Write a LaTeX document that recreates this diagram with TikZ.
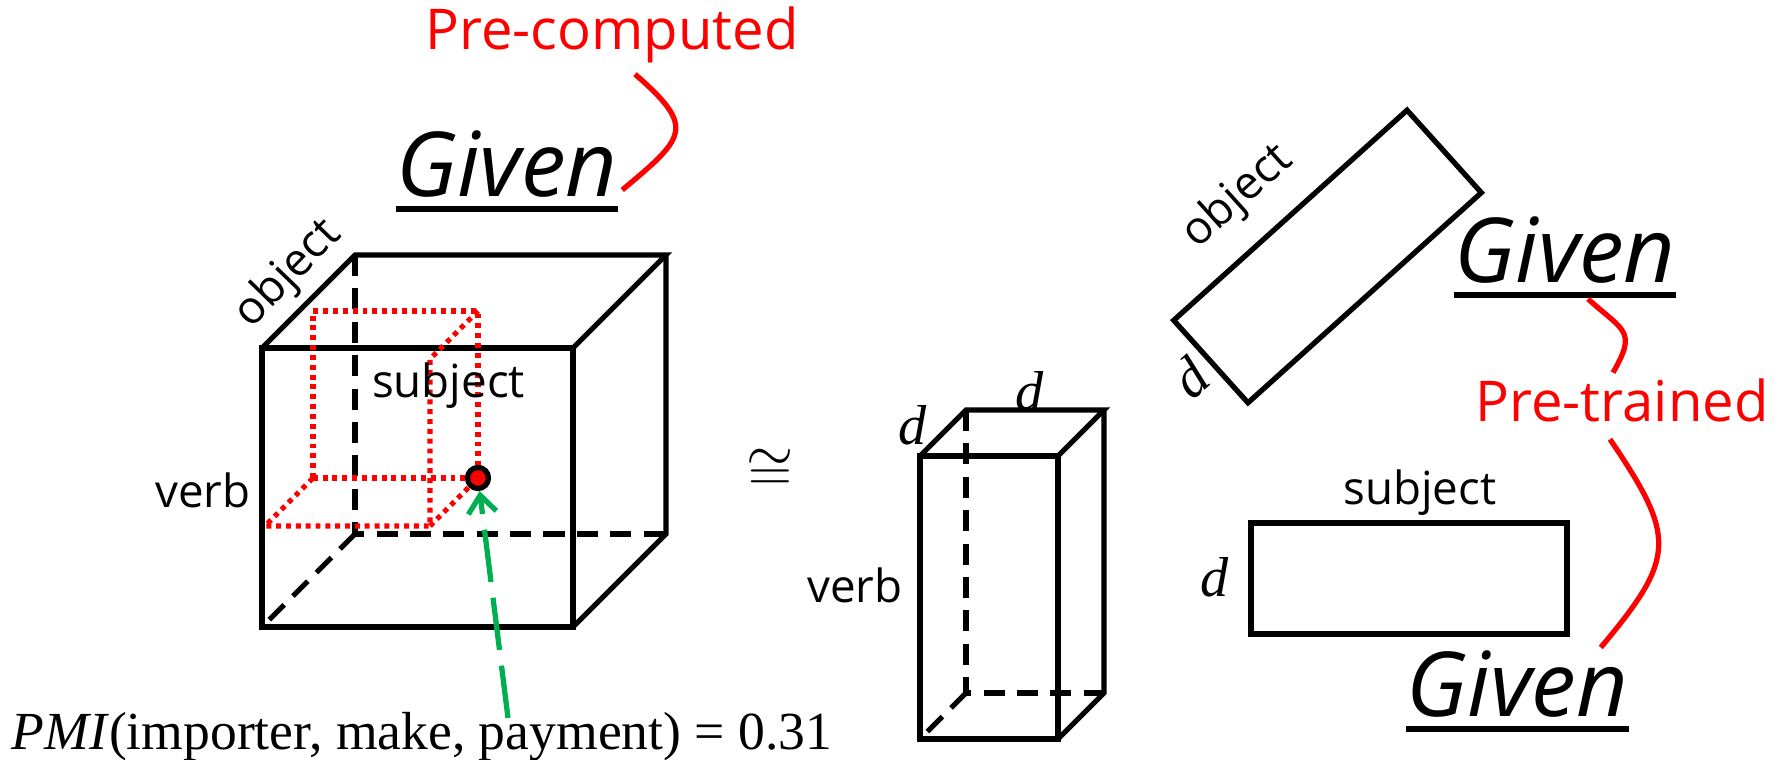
\documentclass[tikz,border=0pt]{standalone}
\usepackage{fontspec}
\setmainfont{Open Sans}
\newfontfamily\timesfont{Liberation Serif}
\usetikzlibrary{arrows.meta}
\definecolor{pmigreen}{RGB}{0,176,80}

\begin{document}
\begin{tikzpicture}[
	box/.style = {line width=1.5pt},
	hidden/.style = {line width=1.5pt, dash pattern=on 6pt off 3.5pt},
	sub/.style = {red, line width=1.5pt, dash pattern=on 1.4pt off 1.4pt},
	note/.style = {red, line width=1.5pt},
	lbl/.style = {inner sep=0pt, font=\fontsize{13}{15}\selectfont},
	given/.style = {inner sep=0pt, font=\fontsize{25.5}{30}\selectfont\itshape},
	redlbl/.style = {inner sep=0pt, red, font=\fontsize{16}{19}\selectfont},
	dimlbl/.style = {inner sep=0pt, font=\fontsize{16}{18}\selectfont\timesfont\itshape}]
\useasboundingbox (0,0) rectangle (17.79,7.60);

% the two cuboids
\foreach \x / \y / \w / \h / \d in {2.62/1.33/3.11/2.79/0.93, 9.20/0.21/1.38/2.83/0.46}
{
	\draw[box] (\x,\y) rectangle (\x+\w,\y+\h);
	\draw[box] (\x,\y+\h) -- (\x+\d,\y+\h+\d) -- (\x+\w+\d,\y+\h+\d) -- (\x+\w,\y+\h);
	\draw[box] (\x+\w+\d,\y+\h+\d) -- (\x+\w+\d,\y+\d) -- (\x+\w,\y);
	\draw[hidden] (\x+\d,\y+\h+\d) -- (\x+\d,\y+\d) -- (\x+\w+\d,\y+\d);
	\draw[hidden] (\x+\d,\y+\d) -- (\x,\y);
}

% selected cell
\draw[sub] (3.13,2.82) rectangle (4.78,4.49);
\draw[sub] (4.78,4.49) -- (4.30,4.01) -- (4.30,2.34) -- (2.65,2.34) -- (3.13,2.82);
\draw[sub] (4.30,2.34) -- (4.78,2.82);
\node[circle, draw, line width=1.5pt, fill=red, inner sep=0pt, minimum size=0.21cm] (cell) at (4.78,2.82) {};

\node[lbl, rotate=46, anchor=base west] (obj1) at (2.51,4.30) {object};
\node[lbl, anchor=base] (subj1) at (4.485,3.62) {subject};
\node[lbl, anchor=base] (verb1) at (2.03,2.52) {verb};

\node[anchor=base west, inner sep=0pt, font=\fontsize{15.25}{18}\selectfont\timesfont] (pmi) at (0.11,0.10) {\textit{PMI}(importer, make, payment) = 0.31};
\coordinate (pmitail) at (5.08,0.42);
\draw[pmigreen, line width=1.5pt, dash pattern=on 15pt off 4.5pt, -{Straight Barb[length=5pt, width=8pt]}] (pmitail) -- (cell);

\node[font=\fontsize{18}{20}\selectfont] (cong) at (7.70,2.90) {$\cong$};

% verb x d x d
\node[lbl, anchor=base] (verb2) at (8.55,1.57) {verb};
\node[dimlbl] (d1) at (9.13,3.35) {d};
\node[dimlbl] (d2) at (10.30,3.69) {d};

% object x d
\begin{scope}[shift={(13.275,5.035)}, rotate=42, transform shape]
	\draw[box] (-1.57,-0.555) rectangle (1.57,0.555);
	\node[lbl, anchor=base west] (obj2) at (-0.93,0.92) {object};
	\node[dimlbl] (d3) at (-1.835,0.02) {d};
\end{scope}

% subject x d
\draw[box] (12.51,1.26) rectangle (15.67,2.37);
\node[lbl, anchor=base] (subj2) at (14.20,2.55) {subject};
\node[dimlbl] (d4) at (12.15,1.83) {d};

\node[given, anchor=base] (given1) at (5.07,5.63) {Given};
\node[given, anchor=base] (given2) at (15.65,4.77) {Given};
\node[given, anchor=base] (given3) at (15.175,0.43) {Given};
\foreach \g in {given1, given2, given3}
	\draw[box] ([yshift=-0.12cm]\g.base west) -- ([yshift=-0.12cm]\g.base east);

\node[redlbl, anchor=base] (precomp) at (6.12,7.10) {Pre-computed};
\node[redlbl, anchor=base] (pretrain) at (16.22,3.38) {Pre-trained};

\draw[note] ([xshift=0.23cm, yshift=-0.1cm]precomp.south) to[out=-41, in=40, looseness=1.8] ([xshift=0.04cm, yshift=0.07cm]given1.base east);
\draw[note] ([xshift=0.23cm, yshift=-0.16cm]given2.base) to[out=-42, in=60, looseness=1.6] ([xshift=-0.09cm, yshift=0.06cm]pretrain.north);
\draw[note] ([xshift=-0.12cm, yshift=-0.16cm]pretrain.south) to[out=-56, in=50, looseness=1.45] ([xshift=-0.28cm, yshift=0.03cm]given3.north east);
\end{tikzpicture}
\end{document}
